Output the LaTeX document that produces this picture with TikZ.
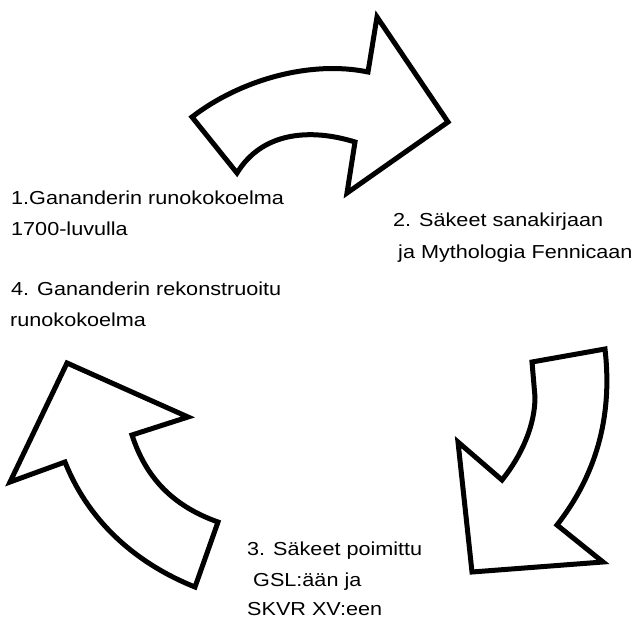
\documentclass[tikz,border=0pt]{standalone}
\usepackage{fontspec}
\setmainfont{Liberation Sans}[FakeStretch=1.15]
\begin{document}
\begin{tikzpicture}[x=1pt,y=-1pt,
  bigarrow/.style={draw=black,line width=5pt,line join=miter,fill=white},
  lbl/.style={anchor=base west,inner sep=0pt,font=\fontsize{18.8}{22}\selectfont}]
\useasboundingbox (0,0) rectangle (637,620);
% top arrow
\draw[bigarrow] (192,117) .. controls (240,80) and (310,60) .. (368,72)
  -- (377,17) -- (448,122) -- (347,193) -- (355,142)
  .. controls (310,128) and (262,132) .. (237,173) -- cycle;
% right arrow
\draw[bigarrow] (532,362) -- (605,349)
  .. controls (612,410) and (600,470) .. (557,525)
  -- (603,562) -- (472,572) -- (458,442) -- (502,480)
  .. controls (522,455) and (535,425) .. (535,397) -- cycle;
% left arrow
\draw[bigarrow] (67,363) -- (188,417) -- (132,435)
  .. controls (145,475) and (170,505) .. (218,522)
  -- (195,587)
  .. controls (140,565) and (90,525) .. (65,462)
  -- (10,482) -- cycle;
% labels
\node[lbl] (t1a) at (11,205) {1.Gananderin runokokoelma};
\node[lbl] (t1b) at (11,236) {1700-luvulla};
\node[lbl] (t2a) at (393,227) {2. Säkeet sanakirjaan};
\node[lbl] (t2b) at (398,259) {ja Mythologia Fennicaan};
\node[lbl] (t3a) at (247,555) {3. Säkeet poimittu};
\node[lbl] (t3b) at (253,586) {GSL:ään ja};
\node[lbl] (t3c) at (247,615) {SKVR XV:een};
\node[lbl] (t4a) at (11,295) {4. Gananderin rekonstruoitu};
\node[lbl] (t4b) at (10,326) {runokokoelma};
\end{tikzpicture}
\end{document}
